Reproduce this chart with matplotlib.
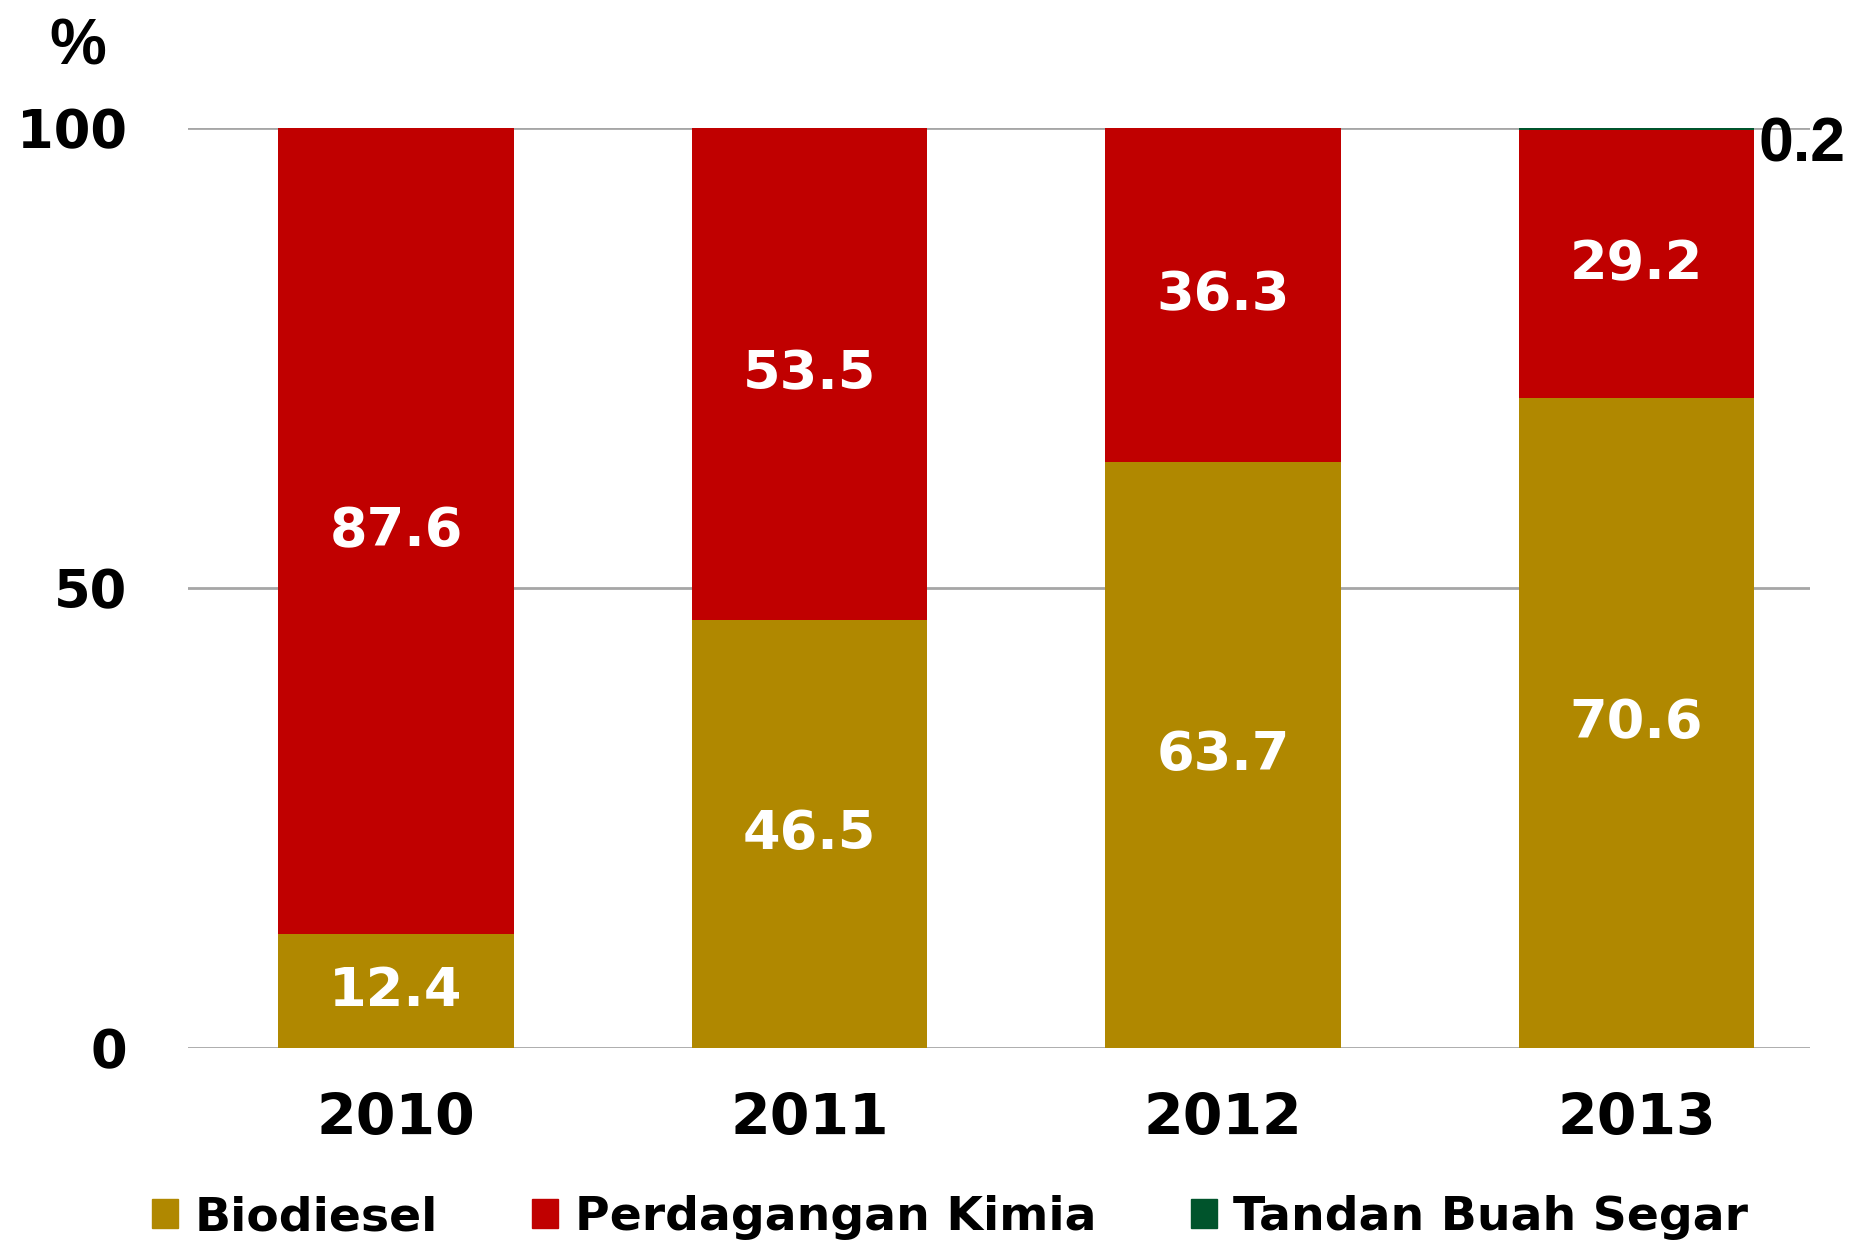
import numpy as np
import matplotlib.pyplot as plt
from matplotlib.patches import Patch

# data
years = ['2010', '2011', '2012', '2013']
biodiesel = [12.4, 46.5, 63.7, 70.6]
kimia = [87.6, 53.5, 36.3, 29.2]
tbs = [0.0, 0.0, 0.0, 0.2]

c_bio = '#B08800'
c_kim = '#C00000'
c_tbs = '#00542C'

fig = plt.figure(figsize=(18.63, 12.40), dpi=100)
ax = fig.add_axes([0.101, 0.155, 0.8706, 0.7418])

x = np.arange(len(years))
w = 0.57
ax.bar(x, biodiesel, w, color=c_bio, zorder=3)
ax.bar(x, kimia, w, bottom=biodiesel, color=c_kim, zorder=3)
bot2 = np.array(biodiesel) + np.array(kimia)
ax.bar(x, tbs, w, bottom=bot2, color=c_tbs, zorder=3)

# value labels inside bars
for i in range(len(years)):
    ax.text(x[i], biodiesel[i] / 2, f'{biodiesel[i]:.1f}', ha='center', va='center',
            color='white', fontsize=39, fontweight='bold', zorder=4)
    ax.text(x[i], biodiesel[i] + kimia[i] / 2, f'{kimia[i]:.1f}', ha='center', va='center',
            color='white', fontsize=39, fontweight='bold', zorder=4)
# small green segment label on the right
ax.text(x[-1] + w / 2 + 0.01, 98.2, f'{tbs[-1]:.1f}', ha='left', va='center',
        color='black', fontsize=45, fontweight='bold', family='Liberation Sans', zorder=4)

ax.set_xlim(-0.503, 3.42)
ax.set_ylim(0, 100)
ax.set_yticks([0, 50, 100])
ax.set_xticks(x)
ax.set_xticklabels(years)
ax.tick_params(axis='y', length=0, labelsize=38, pad=44)
ax.tick_params(axis='x', length=0, labelsize=41, pad=32)
for lab in ax.get_xticklabels() + ax.get_yticklabels():
    lab.set_fontweight('bold')
ax.grid(axis='y', color='#A6A6A6', linewidth=2, zorder=0)
for s in ax.spines.values():
    s.set_visible(False)

fig.text(0.042, 0.986, '%', fontsize=46, fontweight='bold', family='Liberation Sans',
         ha='center', va='top')

handles = [Patch(color=c_bio), Patch(color=c_kim), Patch(color=c_tbs)]
fig.legend(handles, ['Biodiesel', 'Perdagangan Kimia', 'Tandan Buah Segar'],
           loc='center', bbox_to_anchor=(0.51, 0.018), ncol=3, frameon=False,
           prop={'weight': 'bold', 'size': 34},
           handlelength=0.55, handleheight=0.55, handletextpad=0.35, columnspacing=2.0)

plt.savefig('out.png', dpi=100)
